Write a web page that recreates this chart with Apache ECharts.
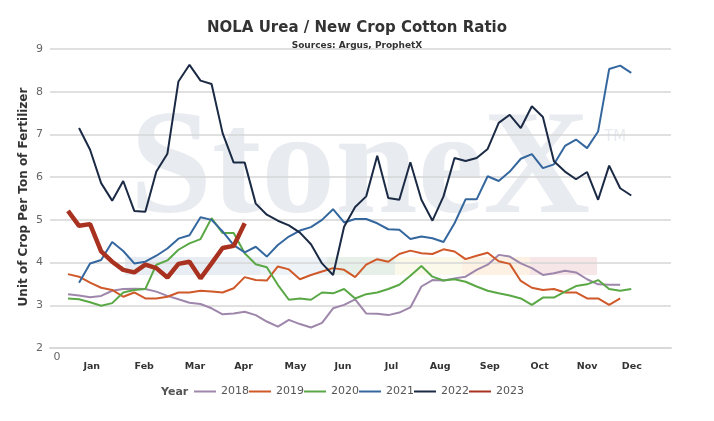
<!DOCTYPE html>
<html>
<head>
<meta charset="utf-8">
<script src="https://cdn.jsdelivr.net/npm/echarts@6/dist/echarts.min.js"></script>
<style>
  html, body { margin: 0; padding: 0; background: #fff; }
  #chart { width: 714px; height: 421px; }
</style>
</head>
<body>
<div id="chart"></div>
<script>
// weekly ratio, first value belongs to the start week
const years = ['2018', '2019', '2020', '2021', '2022', '2023'];
const startWeek = [1, 1, 1, 2, 2, 1];
const colors = ['#9e87ab', '#d0592a', '#5aa845', '#35679f', '#1b2a45', '#a8311f'];

const v2018 = [3.26, 3.23, 3.19, 3.22, 3.34, 3.38, 3.39, 3.38, 3.32, 3.22, 3.14, 3.06, 3.03, 2.93, 2.79, 2.81, 2.85, 2.77,
  2.62, 2.50, 2.66, 2.56, 2.48, 2.59, 2.93, 3.01, 3.14, 2.81, 2.80, 2.77, 2.83, 2.95, 3.44, 3.59, 3.58, 3.63, 3.67,
  3.83, 3.95, 4.18, 4.14, 3.98, 3.87, 3.71, 3.75, 3.81, 3.77, 3.61, 3.49, 3.48, 3.48];
const v2019 = [3.73, 3.67, 3.53, 3.41, 3.36, 3.20, 3.30, 3.16, 3.16, 3.20, 3.30, 3.30, 3.34, 3.32, 3.30, 3.40, 3.66, 3.59,
  3.58, 3.91, 3.84, 3.61, 3.71, 3.79, 3.87, 3.83, 3.66, 3.95, 4.08, 4.02, 4.20, 4.28, 4.22, 4.20, 4.31, 4.26, 4.08,
  4.16, 4.23, 4.03, 3.97, 3.57, 3.41, 3.36, 3.38, 3.30, 3.30, 3.16, 3.16, 3.01, 3.16];
const v2020 = [3.16, 3.14, 3.07, 2.99, 3.05, 3.30, 3.36, 3.38, 3.95, 4.05, 4.30, 4.45, 4.55, 5.04, 4.69, 4.69, 4.22, 3.96,
  3.89, 3.48, 3.13, 3.16, 3.13, 3.30, 3.28, 3.38, 3.16, 3.26, 3.30, 3.38, 3.48, 3.69, 3.92, 3.67, 3.58, 3.61, 3.55,
  3.44, 3.34, 3.28, 3.23, 3.16, 3.01, 3.18, 3.18, 3.32, 3.45, 3.49, 3.59, 3.38, 3.34, 3.38];
const v2021 = [3.53, 3.98, 4.06, 4.48, 4.27, 3.98, 4.02, 4.16, 4.33, 4.56, 4.64, 5.06, 5.00, 4.73, 4.41, 4.24, 4.37,
  4.14, 4.41, 4.61, 4.75, 4.83, 5.00, 5.25, 4.94, 5.02, 5.02, 4.92, 4.78, 4.77, 4.55, 4.61, 4.57, 4.48, 4.92, 5.48,
  5.48, 6.02, 5.91, 6.13, 6.43, 6.54, 6.21, 6.30, 6.73, 6.88, 6.68, 7.07, 8.53, 8.61, 8.44];
const v2022 = [7.15, 6.64, 5.86, 5.45, 5.91, 5.21, 5.19, 6.13, 6.55, 8.24, 8.63, 8.26, 8.18, 7.03, 6.34, 6.34, 5.38,
  5.12, 4.98, 4.87, 4.70, 4.43, 3.98, 3.71, 4.84, 5.30, 5.55, 6.50, 5.51, 5.47, 6.35, 5.47, 4.98, 5.55, 6.45, 6.38,
  6.45, 6.66, 7.27, 7.46, 7.15, 7.66, 7.41, 6.37, 6.13, 5.95, 6.12, 5.47, 6.27, 5.74, 5.57];
const v2023 = [5.21, 4.86, 4.90, 4.26, 4.02, 3.83, 3.77, 3.95, 3.87, 3.65, 3.97, 4.02, 3.63, 3.98, 4.34, 4.39, 4.92];

const values = [v2018, v2019, v2020, v2021, v2022, v2023];

const months = ['Jan', 'Feb', 'Mar', 'Apr', 'May', 'Jun', 'Jul', 'Aug', 'Sep', 'Oct', 'Nov', 'Dec'];
const monthPos = [3.15, 7.9, 12.5, 16.9, 21.6, 25.9, 30.3, 34.7, 39.2, 43.7, 48.0, 52.05];
const weekLabels = [0];

const chart = echarts.init(document.getElementById('chart'));

const wm = '#e8ebf0';
const option = {
  animation: false,
  textStyle: { fontFamily: 'DejaVu Sans' },
  title: [
    {
      text: 'NOLA Urea / New Crop Cotton Ratio',
      left: 'center', top: 21, padding: [0, 29, 0, 5],
      textStyle: { fontSize: 15, fontWeight: 'bold', color: '#333' }
    },
    {
      text: 'Sources: Argus, ProphetX',
      left: 'center', top: 41, padding: [0, 29, 0, 5],
      textStyle: { fontSize: 9, fontWeight: 'bold', color: '#333' }
    }
  ],
  graphic: [
    { type: 'rect', z: -10, shape: { x: 125, y: 257, width: 135, height: 18 }, style: { fill: '#e8edf3' } },
    { type: 'rect', z: -10, shape: { x: 260, y: 257, width: 67, height: 18 }, style: { fill: '#eef3f8' } },
    { type: 'rect', z: -10, shape: { x: 327, y: 257, width: 68, height: 18 }, style: { fill: '#e6efe8' } },
    { type: 'rect', z: -10, shape: { x: 395, y: 257, width: 67, height: 18 }, style: { fill: '#fbfaea' } },
    { type: 'rect', z: -10, shape: { x: 462, y: 257, width: 68, height: 18 }, style: { fill: '#fdf1e4' } },
    { type: 'rect', z: -10, shape: { x: 530, y: 257, width: 67, height: 18 }, style: { fill: '#f6e6e8' } },
    {
      type: 'text', z: -10, x: 360, y: 174,
      style: { text: 'StoneX', font: 'bold 148px "Liberation Serif"', fill: wm, textAlign: 'center', textVerticalAlign: 'middle' }
    },
    {
      type: 'text', z: -10, x: 604, y: 137,
      style: { text: 'TM', font: '15px "DejaVu Sans"', fill: wm, textAlign: 'left', textVerticalAlign: 'middle' }
    },
    {
      type: 'text', x: 24, y: 197, rotation: Math.PI / 2,
      style: {
        text: 'Unit of Crop Per Ton of Fertilizer', font: 'bold 12px "DejaVu Sans"', fill: '#333',
        textAlign: 'center', textVerticalAlign: 'middle'
      }
    },
    {
      type: 'text', x: 161, y: 392,
      style: { text: 'Year', font: 'bold 11px "DejaVu Sans"', fill: '#555', textAlign: 'left', textVerticalAlign: 'middle' }
    }
  ],
  legend: {
    left: 194, top: 386, padding: 0,
    icon: 'rect', itemWidth: 22, itemHeight: 2, itemGap: 0,
    textStyle: { fontSize: 11, color: '#555' },
    data: years
  },
  grid: { left: 50, right: 43, top: 49, bottom: 73 },
  xAxis: [
    {
      type: 'value', min: -0.63, max: 55.6,
      splitLine: { show: false },
      axisTick: { show: false },
      axisLine: { show: true, lineStyle: { color: '#d9d9d9', width: 2 } },
      axisLabel: { customValues: weekLabels, margin: 4, fontSize: 11, color: '#666' }
    },
    {
      type: 'value', min: -0.63, max: 55.6, position: 'bottom',
      splitLine: { show: false },
      axisTick: { show: false },
      axisLine: { show: false },
      axisLabel: {
        customValues: monthPos, margin: 14, fontSize: 9.5, fontWeight: 'bold', color: '#333',
        formatter: (v) => months[monthPos.indexOf(v)]
      }
    }
  ],
  yAxis: {
    type: 'value', min: 2, max: 9, interval: 1,
    axisLine: { show: false },
    axisTick: { show: false },
    axisLabel: { margin: 7, fontSize: 11, color: '#666' },
    splitLine: { lineStyle: { color: '#d6d6d6', width: 1.5 } }
  },
  series: years.map((y, i) => ({
    name: y,
    type: 'line',
    xAxisIndex: 0,
    showSymbol: false,
    color: colors[i],
    lineStyle: { width: y === '2023' ? 4.5 : 2, color: colors[i] },
    data: values[i].map((v, k) => [startWeek[i] + k, v])
  }))
};

chart.setOption(option);
</script>
</body>
</html>
